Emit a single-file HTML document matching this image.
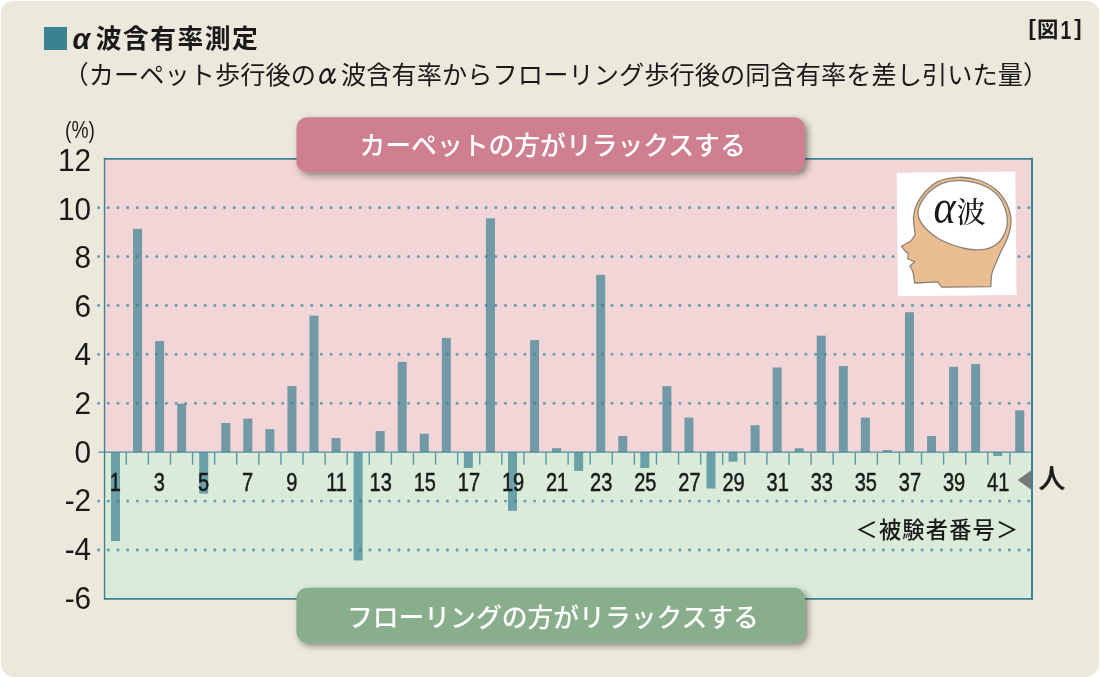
<!DOCTYPE html>
<html lang="ja">
<head>
<meta charset="utf-8">
<title>α波含有率測定</title>
<style>
html, body { margin: 0; padding: 0; background: #ffffff; }
body { width: 1100px; height: 677px; overflow: hidden; }
svg { display: block; font-family: "Liberation Sans", "Noto Sans CJK JP", sans-serif; }
</style>
</head>
<body>
<svg width="1100" height="677" viewBox="0 0 1100 677">
<path d="M13.4 0.9 H1086.8 A12.5 12.5 0 0 1 1099.3 13.4 V662.6 A14.5 14.5 0 0 1 1084.8 677.1 H14.4 A13.5 13.5 0 0 1 0.9 663.6 V13.4 A12.5 12.5 0 0 1 13.4 0.9 Z" fill="#ece8dc"/>
<rect x="44" y="27" width="23" height="23" fill="#3a8291"/>
<text font-weight="700" fill="#1a1a1a"><tspan x="72.4" y="48.5" font-size="28.6" font-style="italic">α</tspan><tspan x="95.7" y="48.1" font-size="25.8" letter-spacing="1.45">波含有率測定</tspan></text>
<text font-size="25.2" fill="#1a1a1a"><tspan x="63.60" y="84.4" letter-spacing="0.04">（カーペット歩行後の</tspan><tspan x="313.87" y="84.5" font-size="31" font-family='"IPAGothic", "Liberation Sans", sans-serif' textLength="27.9" lengthAdjust="spacingAndGlyphs">α</tspan><tspan x="341.04" y="84.4" letter-spacing="0.075">波含有率からフローリング歩行後の同含有率を差し引いた量）</tspan></text>
<text font-weight="700" fill="#1a1a1a"><tspan x="1028.5" y="35.4" font-size="22">[</tspan><tspan x="1037.1" y="37.1" font-size="21.4">図</tspan><tspan x="1060.6" y="38.6" font-size="25.7" textLength="10.72" lengthAdjust="spacingAndGlyphs">1</tspan><tspan x="1074.2" y="35.4" font-size="22">]</tspan></text>
<rect x="104.55" y="158.70" width="927.45" height="293.40" fill="#f2d5d6"/>
<rect x="104.55" y="452.1" width="927.45" height="146.70" fill="#daebda"/>
<line x1="98.6" y1="207.60" x2="1031.0" y2="207.60" stroke="#6a9fb3" stroke-width="3.1" stroke-linecap="round" stroke-dasharray="0 9.689"/>
<line x1="98.6" y1="256.50" x2="1031.0" y2="256.50" stroke="#6a9fb3" stroke-width="3.1" stroke-linecap="round" stroke-dasharray="0 9.689"/>
<line x1="98.6" y1="305.40" x2="1031.0" y2="305.40" stroke="#6a9fb3" stroke-width="3.1" stroke-linecap="round" stroke-dasharray="0 9.689"/>
<line x1="98.6" y1="354.30" x2="1031.0" y2="354.30" stroke="#6a9fb3" stroke-width="3.1" stroke-linecap="round" stroke-dasharray="0 9.689"/>
<line x1="98.6" y1="403.20" x2="1031.0" y2="403.20" stroke="#6a9fb3" stroke-width="3.1" stroke-linecap="round" stroke-dasharray="0 9.689"/>
<line x1="98.6" y1="501.00" x2="1031.0" y2="501.00" stroke="#6a9fb3" stroke-width="3.1" stroke-linecap="round" stroke-dasharray="0 9.689"/>
<line x1="98.6" y1="549.90" x2="1031.0" y2="549.90" stroke="#6a9fb3" stroke-width="3.1" stroke-linecap="round" stroke-dasharray="0 9.689"/>
<line x1="98.3" y1="452.1" x2="1032.0" y2="452.1" stroke="#4f8fa3" stroke-width="1.4"/>
<line x1="126.30" y1="452.1" x2="126.30" y2="464.70" stroke="#5b96a9" stroke-width="1.4"/>
<line x1="148.39" y1="452.1" x2="148.39" y2="464.70" stroke="#5b96a9" stroke-width="1.4"/>
<line x1="170.48" y1="452.1" x2="170.48" y2="464.70" stroke="#5b96a9" stroke-width="1.4"/>
<line x1="192.57" y1="452.1" x2="192.57" y2="464.70" stroke="#5b96a9" stroke-width="1.4"/>
<line x1="214.66" y1="452.1" x2="214.66" y2="464.70" stroke="#5b96a9" stroke-width="1.4"/>
<line x1="236.75" y1="452.1" x2="236.75" y2="464.70" stroke="#5b96a9" stroke-width="1.4"/>
<line x1="258.84" y1="452.1" x2="258.84" y2="464.70" stroke="#5b96a9" stroke-width="1.4"/>
<line x1="280.93" y1="452.1" x2="280.93" y2="464.70" stroke="#5b96a9" stroke-width="1.4"/>
<line x1="303.02" y1="452.1" x2="303.02" y2="464.70" stroke="#5b96a9" stroke-width="1.4"/>
<line x1="325.11" y1="452.1" x2="325.11" y2="464.70" stroke="#5b96a9" stroke-width="1.4"/>
<line x1="347.20" y1="452.1" x2="347.20" y2="464.70" stroke="#5b96a9" stroke-width="1.4"/>
<line x1="369.29" y1="452.1" x2="369.29" y2="464.70" stroke="#5b96a9" stroke-width="1.4"/>
<line x1="391.38" y1="452.1" x2="391.38" y2="464.70" stroke="#5b96a9" stroke-width="1.4"/>
<line x1="413.47" y1="452.1" x2="413.47" y2="464.70" stroke="#5b96a9" stroke-width="1.4"/>
<line x1="435.56" y1="452.1" x2="435.56" y2="464.70" stroke="#5b96a9" stroke-width="1.4"/>
<line x1="457.65" y1="452.1" x2="457.65" y2="464.70" stroke="#5b96a9" stroke-width="1.4"/>
<line x1="479.74" y1="452.1" x2="479.74" y2="464.70" stroke="#5b96a9" stroke-width="1.4"/>
<line x1="501.83" y1="452.1" x2="501.83" y2="464.70" stroke="#5b96a9" stroke-width="1.4"/>
<line x1="523.92" y1="452.1" x2="523.92" y2="464.70" stroke="#5b96a9" stroke-width="1.4"/>
<line x1="546.01" y1="452.1" x2="546.01" y2="464.70" stroke="#5b96a9" stroke-width="1.4"/>
<line x1="568.10" y1="452.1" x2="568.10" y2="464.70" stroke="#5b96a9" stroke-width="1.4"/>
<line x1="590.19" y1="452.1" x2="590.19" y2="464.70" stroke="#5b96a9" stroke-width="1.4"/>
<line x1="612.28" y1="452.1" x2="612.28" y2="464.70" stroke="#5b96a9" stroke-width="1.4"/>
<line x1="634.37" y1="452.1" x2="634.37" y2="464.70" stroke="#5b96a9" stroke-width="1.4"/>
<line x1="656.46" y1="452.1" x2="656.46" y2="464.70" stroke="#5b96a9" stroke-width="1.4"/>
<line x1="678.55" y1="452.1" x2="678.55" y2="464.70" stroke="#5b96a9" stroke-width="1.4"/>
<line x1="700.64" y1="452.1" x2="700.64" y2="464.70" stroke="#5b96a9" stroke-width="1.4"/>
<line x1="722.73" y1="452.1" x2="722.73" y2="464.70" stroke="#5b96a9" stroke-width="1.4"/>
<line x1="744.82" y1="452.1" x2="744.82" y2="464.70" stroke="#5b96a9" stroke-width="1.4"/>
<line x1="766.91" y1="452.1" x2="766.91" y2="464.70" stroke="#5b96a9" stroke-width="1.4"/>
<line x1="789.00" y1="452.1" x2="789.00" y2="464.70" stroke="#5b96a9" stroke-width="1.4"/>
<line x1="811.09" y1="452.1" x2="811.09" y2="464.70" stroke="#5b96a9" stroke-width="1.4"/>
<line x1="833.18" y1="452.1" x2="833.18" y2="464.70" stroke="#5b96a9" stroke-width="1.4"/>
<line x1="855.27" y1="452.1" x2="855.27" y2="464.70" stroke="#5b96a9" stroke-width="1.4"/>
<line x1="877.36" y1="452.1" x2="877.36" y2="464.70" stroke="#5b96a9" stroke-width="1.4"/>
<line x1="899.45" y1="452.1" x2="899.45" y2="464.70" stroke="#5b96a9" stroke-width="1.4"/>
<line x1="921.54" y1="452.1" x2="921.54" y2="464.70" stroke="#5b96a9" stroke-width="1.4"/>
<line x1="943.63" y1="452.1" x2="943.63" y2="464.70" stroke="#5b96a9" stroke-width="1.4"/>
<line x1="965.72" y1="452.1" x2="965.72" y2="464.70" stroke="#5b96a9" stroke-width="1.4"/>
<line x1="987.81" y1="452.1" x2="987.81" y2="464.70" stroke="#5b96a9" stroke-width="1.4"/>
<line x1="1009.90" y1="452.1" x2="1009.90" y2="464.70" stroke="#5b96a9" stroke-width="1.4"/>
<g fill="#3a8091" fill-opacity="0.7">
<rect x="111.00" y="452.10" width="9.0" height="89.00"/>
<rect x="133.06" y="228.87" width="9.0" height="223.23"/>
<rect x="155.11" y="341.10" width="9.0" height="111.00"/>
<rect x="177.16" y="403.69" width="9.0" height="48.41"/>
<rect x="199.22" y="452.10" width="9.0" height="41.56"/>
<rect x="221.28" y="423.00" width="9.0" height="29.10"/>
<rect x="243.33" y="418.60" width="9.0" height="33.50"/>
<rect x="265.38" y="429.12" width="9.0" height="22.98"/>
<rect x="287.44" y="386.09" width="9.0" height="66.02"/>
<rect x="309.50" y="315.67" width="9.0" height="136.43"/>
<rect x="331.55" y="438.16" width="9.0" height="13.94"/>
<rect x="353.61" y="452.10" width="9.0" height="108.31"/>
<rect x="375.66" y="431.07" width="9.0" height="21.03"/>
<rect x="397.71" y="361.88" width="9.0" height="90.22"/>
<rect x="419.77" y="433.76" width="9.0" height="18.34"/>
<rect x="441.82" y="337.92" width="9.0" height="114.18"/>
<rect x="463.88" y="452.10" width="9.0" height="15.89"/>
<rect x="485.94" y="218.36" width="9.0" height="233.74"/>
<rect x="507.99" y="452.10" width="9.0" height="58.68"/>
<rect x="530.05" y="340.12" width="9.0" height="111.98"/>
<rect x="552.10" y="448.19" width="9.0" height="3.91"/>
<rect x="574.15" y="452.10" width="9.0" height="18.83"/>
<rect x="596.21" y="274.84" width="9.0" height="177.26"/>
<rect x="618.26" y="435.96" width="9.0" height="16.14"/>
<rect x="640.32" y="452.10" width="9.0" height="15.89"/>
<rect x="662.38" y="386.09" width="9.0" height="66.02"/>
<rect x="684.43" y="417.63" width="9.0" height="34.47"/>
<rect x="706.49" y="452.10" width="9.0" height="36.43"/>
<rect x="728.54" y="452.10" width="9.0" height="9.54"/>
<rect x="750.60" y="425.21" width="9.0" height="26.90"/>
<rect x="772.65" y="367.50" width="9.0" height="84.60"/>
<rect x="794.71" y="448.19" width="9.0" height="3.91"/>
<rect x="816.76" y="335.72" width="9.0" height="116.38"/>
<rect x="838.81" y="366.04" width="9.0" height="86.06"/>
<rect x="860.87" y="417.63" width="9.0" height="34.47"/>
<rect x="882.92" y="450.14" width="9.0" height="1.96"/>
<rect x="904.98" y="312.25" width="9.0" height="139.85"/>
<rect x="927.03" y="435.96" width="9.0" height="16.14"/>
<rect x="949.09" y="366.77" width="9.0" height="85.33"/>
<rect x="971.14" y="364.08" width="9.0" height="88.02"/>
<rect x="993.20" y="452.10" width="9.0" height="3.91"/>
<rect x="1015.25" y="410.29" width="9.0" height="41.81"/>
</g>
<rect x="897.3" y="172.2" width="118.6" height="123.5" fill="#ffffff" transform="rotate(-0.6 956.6 234)"/>
<path d="M915.2 234.6 C915.1 233.5 914.6 231.0 914.3 227.9 C914.0 224.8 913.1 219.9 913.6 215.9 C914.1 211.9 915.1 207.9 917.0 203.9 C918.9 199.9 921.5 195.8 925.0 192.0 C928.5 188.2 932.8 183.8 938.3 181.3 C943.8 178.9 951.6 177.5 958.2 177.3 C964.9 177.1 972.0 178.0 978.2 180.0 C984.4 182.0 990.8 185.5 995.4 189.3 C1000.0 193.1 1003.5 197.9 1006.1 202.6 C1008.7 207.2 1010.0 212.8 1010.7 217.2 C1011.4 221.6 1010.9 225.2 1010.1 229.2 C1009.3 233.2 1007.7 237.4 1006.1 241.2 C1004.5 245.0 1002.4 248.3 1000.8 251.8 C999.2 255.3 997.8 258.7 996.3 262.3 C994.8 265.9 992.8 269.3 991.9 273.4 C991.0 277.5 991.0 284.5 990.8 286.7 L941.8 287.2 L937.6 281.9 L914.7 283 L913.6 275 L912.6 270.7 L909.9 266 L914.7 261.7 L907.8 259 L908.3 253.2 L905.6 251.6 L901.4 246.3 L911 241 Z" fill="#e9bd90" stroke="#8d8177" stroke-width="1.3" stroke-linejoin="round"/>
<path d="M958.2 180.6 C952.9 180.8 947.1 181.4 942.2 183.3 C937.3 185.2 932.4 188.8 928.9 192.0 C925.4 195.2 922.8 199.3 921.0 202.6 C919.2 205.9 918.2 209.0 918.0 211.9 C917.8 214.8 918.2 217.0 919.6 219.9 C921.0 222.8 923.2 226.1 926.3 229.2 C929.4 232.3 934.1 235.9 938.3 238.5 C942.5 241.1 947.2 242.8 951.6 244.5 C956.0 246.2 960.5 247.6 964.9 248.5 C969.3 249.4 974.0 249.9 978.2 249.8 C982.4 249.7 986.6 249.1 990.1 247.8 C993.6 246.5 996.9 244.5 999.4 241.8 C1001.9 239.2 1004.1 235.3 1005.4 231.9 C1006.7 228.5 1007.4 225.0 1007.4 221.2 C1007.4 217.4 1006.7 213.2 1005.4 209.2 C1004.1 205.2 1002.2 200.8 999.4 197.3 C996.6 193.8 993.0 190.5 988.8 188.0 C984.6 185.5 979.3 183.6 974.2 182.4 C969.1 181.2 963.5 180.4 958.2 180.6 Z" fill="#ffffff" stroke="#8d8177" stroke-width="1.3"/>
<text font-family='"Liberation Serif", "Noto Serif CJK JP", serif' fill="#1a1a1a"><tspan x="933.5" y="222.8" font-size="48" font-style="italic" textLength="22.18" lengthAdjust="spacingAndGlyphs">α</tspan><tspan x="956.6" y="223" font-size="29" font-weight="500">波</tspan></text>
<polygon points="1017.7,479.9 1033,468.9 1033,490.9" fill="#777777"/>
<line x1="104.55" y1="157.80" x2="104.55" y2="599.70" stroke="#3d8293" stroke-width="1.4"/>
<line x1="1032.0" y1="157.80" x2="1032.0" y2="599.70" stroke="#3d8293" stroke-width="2"/>
<line x1="103.85" y1="158.90" x2="1033.0" y2="158.90" stroke="#3d8293" stroke-width="1.8"/>
<line x1="103.85" y1="598.80" x2="1033.0" y2="598.80" stroke="#3d8293" stroke-width="1.8"/>
<text font-size="24" text-anchor="middle" fill="#1a1a1a" transform="translate(80 138.2) scale(0.8 1)">(%)</text>
<text font-size="31" text-anchor="end" fill="#1a1a1a" transform="translate(91.1 170.9) scale(0.96 1)">12</text>
<text font-size="31" text-anchor="end" fill="#1a1a1a" transform="translate(91.1 219.5) scale(0.96 1)">10</text>
<text font-size="31" text-anchor="end" fill="#1a1a1a" transform="translate(91.1 268.1) scale(0.96 1)">8</text>
<text font-size="31" text-anchor="end" fill="#1a1a1a" transform="translate(91.1 316.8) scale(0.96 1)">6</text>
<text font-size="31" text-anchor="end" fill="#1a1a1a" transform="translate(91.1 365.4) scale(0.96 1)">4</text>
<text font-size="31" text-anchor="end" fill="#1a1a1a" transform="translate(91.1 414.0) scale(0.96 1)">2</text>
<text font-size="31" text-anchor="end" fill="#1a1a1a" transform="translate(91.1 462.6) scale(0.96 1)">0</text>
<text font-size="31" text-anchor="end" fill="#1a1a1a" transform="translate(91.1 511.2) scale(0.96 1)">-2</text>
<text font-size="31" text-anchor="end" fill="#1a1a1a" transform="translate(91.1 559.9) scale(0.96 1)">-4</text>
<text font-size="31" text-anchor="end" fill="#1a1a1a" transform="translate(91.1 608.5) scale(0.96 1)">-6</text>
<text font-size="25" text-anchor="middle" fill="#1a1a1a" stroke="#1a1a1a" stroke-width="0.5" transform="translate(115.30 490.7) scale(0.8 1)">1</text>
<text font-size="25" text-anchor="middle" fill="#1a1a1a" stroke="#1a1a1a" stroke-width="0.5" transform="translate(159.41 490.7) scale(0.8 1)">3</text>
<text font-size="25" text-anchor="middle" fill="#1a1a1a" stroke="#1a1a1a" stroke-width="0.5" transform="translate(203.52 490.7) scale(0.8 1)">5</text>
<text font-size="25" text-anchor="middle" fill="#1a1a1a" stroke="#1a1a1a" stroke-width="0.5" transform="translate(247.63 490.7) scale(0.8 1)">7</text>
<text font-size="25" text-anchor="middle" fill="#1a1a1a" stroke="#1a1a1a" stroke-width="0.5" transform="translate(291.74 490.7) scale(0.8 1)">9</text>
<text font-size="25" text-anchor="middle" fill="#1a1a1a" stroke="#1a1a1a" stroke-width="0.5" transform="translate(336.55 490.7) scale(0.8 1)">11</text>
<text font-size="25" text-anchor="middle" fill="#1a1a1a" stroke="#1a1a1a" stroke-width="0.5" transform="translate(380.66 490.7) scale(0.8 1)">13</text>
<text font-size="25" text-anchor="middle" fill="#1a1a1a" stroke="#1a1a1a" stroke-width="0.5" transform="translate(424.77 490.7) scale(0.8 1)">15</text>
<text font-size="25" text-anchor="middle" fill="#1a1a1a" stroke="#1a1a1a" stroke-width="0.5" transform="translate(468.88 490.7) scale(0.8 1)">17</text>
<text font-size="25" text-anchor="middle" fill="#1a1a1a" stroke="#1a1a1a" stroke-width="0.5" transform="translate(512.99 490.7) scale(0.8 1)">19</text>
<text font-size="25" text-anchor="middle" fill="#1a1a1a" stroke="#1a1a1a" stroke-width="0.5" transform="translate(557.10 490.7) scale(0.8 1)">21</text>
<text font-size="25" text-anchor="middle" fill="#1a1a1a" stroke="#1a1a1a" stroke-width="0.5" transform="translate(601.21 490.7) scale(0.8 1)">23</text>
<text font-size="25" text-anchor="middle" fill="#1a1a1a" stroke="#1a1a1a" stroke-width="0.5" transform="translate(645.32 490.7) scale(0.8 1)">25</text>
<text font-size="25" text-anchor="middle" fill="#1a1a1a" stroke="#1a1a1a" stroke-width="0.5" transform="translate(689.43 490.7) scale(0.8 1)">27</text>
<text font-size="25" text-anchor="middle" fill="#1a1a1a" stroke="#1a1a1a" stroke-width="0.5" transform="translate(733.54 490.7) scale(0.8 1)">29</text>
<text font-size="25" text-anchor="middle" fill="#1a1a1a" stroke="#1a1a1a" stroke-width="0.5" transform="translate(777.65 490.7) scale(0.8 1)">31</text>
<text font-size="25" text-anchor="middle" fill="#1a1a1a" stroke="#1a1a1a" stroke-width="0.5" transform="translate(821.76 490.7) scale(0.8 1)">33</text>
<text font-size="25" text-anchor="middle" fill="#1a1a1a" stroke="#1a1a1a" stroke-width="0.5" transform="translate(865.87 490.7) scale(0.8 1)">35</text>
<text font-size="25" text-anchor="middle" fill="#1a1a1a" stroke="#1a1a1a" stroke-width="0.5" transform="translate(909.98 490.7) scale(0.8 1)">37</text>
<text font-size="25" text-anchor="middle" fill="#1a1a1a" stroke="#1a1a1a" stroke-width="0.5" transform="translate(954.09 490.7) scale(0.8 1)">39</text>
<text font-size="25" text-anchor="middle" fill="#1a1a1a" stroke="#1a1a1a" stroke-width="0.5" transform="translate(998.20 490.7) scale(0.8 1)">41</text>
<text x="1038.8" y="488.4" font-size="26.5" font-weight="500" fill="#1a1a1a" stroke="#1a1a1a" stroke-width="0.45">人</text>
<text x="855.6" y="538.2" font-size="22.2" font-weight="500" letter-spacing="1.2" fill="#1a1a1a">＜被験者番号＞</text>
<defs><filter id="sh" x="-5%" y="-20%" width="110%" height="150%"><feDropShadow dx="3" dy="3" stdDeviation="3.4" flood-color="#1c1a10" flood-opacity="0.5"/></filter></defs>
<rect x="296.4" y="117.2" width="508.5" height="55.1" rx="11" fill="#ce7f90" filter="url(#sh)"/>
<text x="552.6" y="154.6" font-size="25.8" font-weight="500" text-anchor="middle" fill="#ffffff">カーペットの方がリラックスする</text>
<rect x="296.4" y="587.7" width="508.5" height="55.1" rx="11" fill="#88ae8c" filter="url(#sh)"/>
<text x="552.9" y="627.3" font-size="25.8" font-weight="500" text-anchor="middle" fill="#ffffff">フローリングの方がリラックスする</text>
</svg>
</body>
</html>
